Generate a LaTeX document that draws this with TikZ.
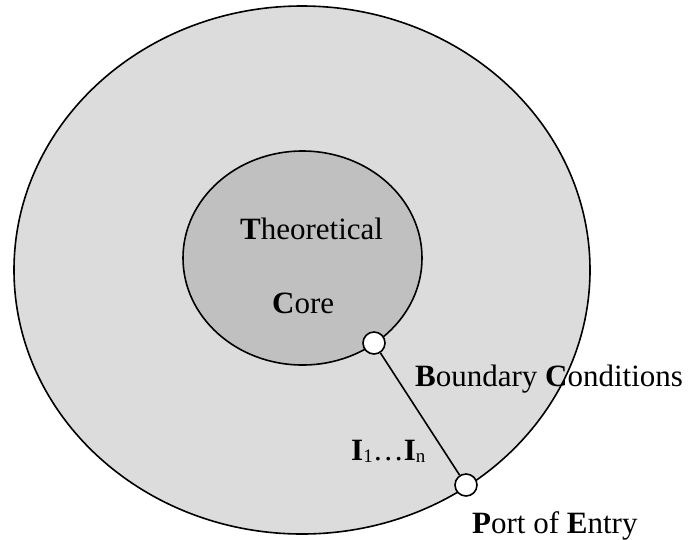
\documentclass[tikz,border=0pt]{standalone}
\usepackage{fontspec}
\setmainfont{Liberation Serif}
\usetikzlibrary{shapes.geometric}
\tikzset{
  region/.style={ellipse, draw=black, line width=1.6pt, inner sep=0pt},
  port/.style={circle, draw=black, fill=white, line width=1.6pt, minimum size=22pt, inner sep=0pt},
  label/.style={anchor=base west, inner sep=0pt, font=\fontsize{31}{36}\selectfont},
}
\begin{document}
\begin{tikzpicture}[x=1pt, y=-1pt]
  \useasboundingbox (0,0) rectangle (692,539);
  % protective belt and theoretical core
  \node[region, fill={rgb,255:red,220;green,220;blue,220}, minimum width=576pt, minimum height=528pt] (belt) at (302,270) {};
  \node[region, fill={rgb,255:red,192;green,192;blue,192}, minimum width=239pt, minimum height=214pt] (core) at (302.5,258) {};
  % ports on the two boundaries
  \node[port] (inner) at (374,343) {};
  \node[port] (entry) at (466,485) {};
  \draw[line width=1.6pt] (inner) -- (entry);
  % texts
  \node[label] (t1) at (240,239) {\textbf{T}heoretical};
  \node[label] (t2) at (272,313) {\textbf{C}ore};
  \node[label] (t3) at (415,386) {\textbf{B}oundary \textbf{C}onditions};
  \node[label] (t4) at (351,460) {\textbf{I}\raisebox{-2pt}{\fontsize{19}{19}\selectfont 1}\ldots\textbf{I}\raisebox{-2pt}{\fontsize{19}{19}\selectfont n}};
  \node[label] (t5) at (472,533) {\textbf{P}ort of \textbf{E}ntry};
\end{tikzpicture}
\end{document}
